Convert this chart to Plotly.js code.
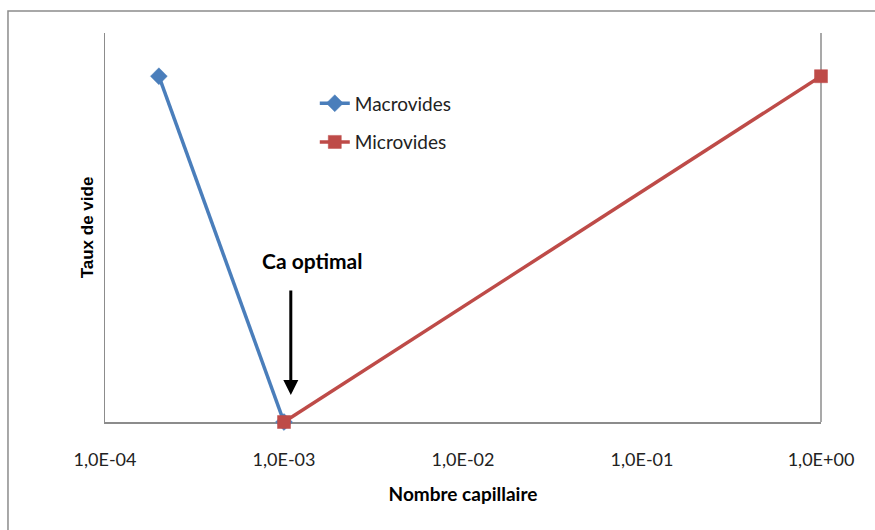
<!DOCTYPE html>
<html>
<head>
<meta charset="utf-8">
<script src="https://cdn.plot.ly/plotly-3.0.1.min.js"></script>
<style>html,body{margin:0;padding:0;background:#fff;}#chart{width:875px;height:530px;}</style>
</head>
<body>
<div id="chart"></div>
<script>
const macroX = [2e-4, 1e-3];
const macroY = [1, 0];
const microX = [1e-3, 1];
const microY = [0, 1];
const xTickVals = [1e-4, 1e-3, 1e-2, 1e-1, 1];
const xTickText = ['1,0E-04', '1,0E-03', '1,0E-02', '1,0E-01', '1,0E+00'];

const FONT = 'Lato, "Open Sans", sans-serif';
const GRAY = '#8c8c8c';

const traces = [
  {
    x: macroX, y: macroY, name: 'Macrovides', type: 'scatter', mode: 'lines+markers',
    line: {color: '#4a7ebb', width: 3.5},
    marker: {symbol: 'diamond', size: 13, color: '#4a7ebb', line: {color: '#4a7ebb', width: 0.5}},
    cliponaxis: false, legendgroup: 'a'
  },
  {
    x: microX, y: microY, name: 'Microvides', type: 'scatter', mode: 'lines+markers',
    line: {color: '#be4b48', width: 3.5},
    marker: {symbol: 'square', size: 13, color: '#be4b48', line: {color: '#be4b48', width: 0.5}},
    cliponaxis: false, legendgroup: 'b'
  }
];

const layout = {
  width: 875, height: 530,
  margin: {l: 105, r: 54, t: 33, b: 108},
  paper_bgcolor: '#fff', plot_bgcolor: '#fff',
  font: {family: FONT, size: 13, color: '#222'},
  showlegend: true,
  legend: {
    x: 0.293, y: 0.868, xanchor: 'left', yanchor: 'top',
    font: {family: FONT, size: 19, color: '#222'},
    tracegroupgap: 11, bgcolor: 'rgba(0,0,0,0)'
  },
  xaxis: {
    type: 'log', range: [-4, 0],
    tickvals: xTickVals, ticktext: xTickText,
    showgrid: false, zeroline: false,
    showline: true, linecolor: GRAY, linewidth: 1.5, layer: 'below traces',
    ticks: '', ticklabelstandoff: 21,
    tickfont: {family: FONT, size: 18, color: '#222'},
    title: {text: 'Nombre capillaire', font: {family: FONT, size: 19, color: '#000', weight: 'bold'}, standoff: 18}
  },
  yaxis: {
    range: [0, 1.125],
    showgrid: false, zeroline: false, showticklabels: false, ticks: '',
    showline: true, linecolor: GRAY, linewidth: 1.5, layer: 'below traces',
    title: {text: 'Taux de vide', font: {family: '"Liberation Sans", Arial, sans-serif', size: 17, color: '#000', weight: 'bold'}, standoff: 5}
  },
  shapes: [
    {type: 'line', xref: 'paper', yref: 'paper', x0: 1, x1: 1, y0: 0, y1: 1, line: {color: GRAY, width: 1.5}, layer: 'below'},
    {type: 'rect', xref: 'paper', yref: 'paper', x0: -0.1355, x1: 1.09, y0: -0.3, y1: 1.0566, line: {color: GRAY, width: 1.5}, fillcolor: 'rgba(0,0,0,0)', layer: 'below'}
  ],
  annotations: [
    {xref: 'x', yref: 'y', x: -2.842, y: 0.468, text: 'Ca optimal', showarrow: false,
     font: {family: FONT, size: 21, color: '#000', weight: 'bold'}},
    {xref: 'x', yref: 'y', x: -2.962, y: 0.078, text: '', showarrow: true,
     axref: 'pixel', ayref: 'pixel', ax: 0, ay: -106,
     arrowhead: 2, arrowsize: 1, arrowwidth: 3, arrowcolor: '#000'}
  ]
};

Plotly.newPlot('chart', traces, layout, {displayModeBar: false, staticPlot: true});
</script>
</body>
</html>
